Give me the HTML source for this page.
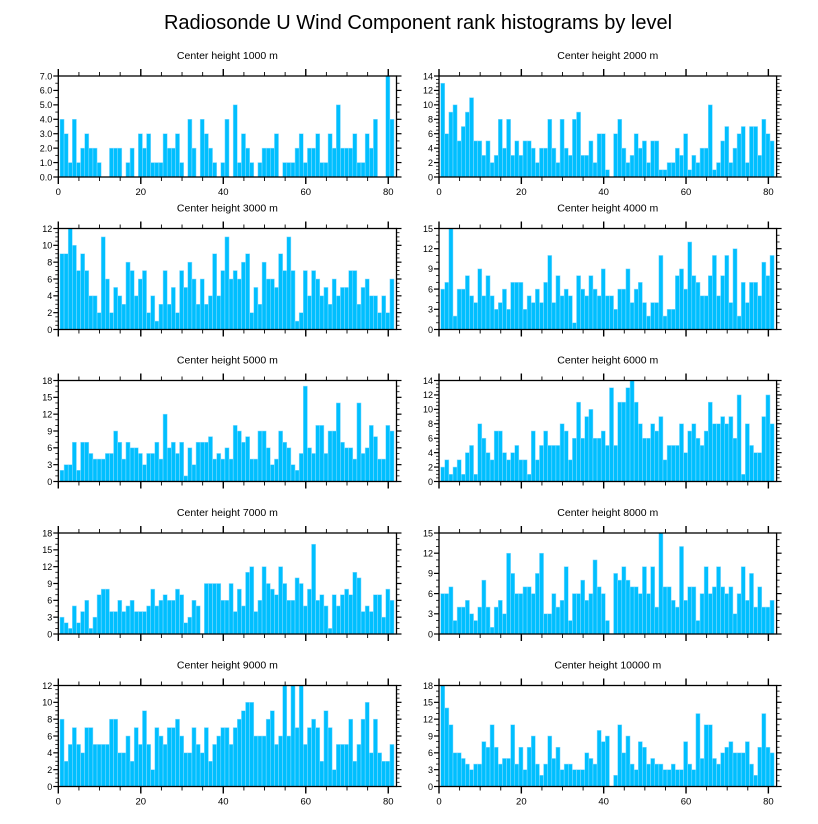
<!DOCTYPE html>
<html><head><meta charset="utf-8"><style>
html,body{margin:0;padding:0;background:#fff}
svg{display:block;font-family:"Liberation Sans",Arial,sans-serif}
</style></head><body>
<svg id="chart" width="818" height="824" viewBox="0 0 818 824" xmlns="http://www.w3.org/2000/svg">
<rect width="818" height="824" fill="#fff"/>
<text x="418" y="29" text-anchor="middle" font-size="20" fill="#000">Radiosonde U Wind Component rank histograms by level</text>
</svg>
<script>
const titles = ["Center height 1000 m","Center height 2000 m","Center height 3000 m","Center height 4000 m","Center height 5000 m","Center height 6000 m","Center height 7000 m","Center height 8000 m","Center height 9000 m","Center height 10000 m"];
const yMax = [7,14,12,15,18,14,18,15,12,18];
const yStep = [1,2,2,3,3,2,3,3,2,3];
const xTicks = [0,20,40,60,80];
const v1000 = [4,3,1,4,1,2,3,2,2,1,0,0,2,2,2,0,1,2,0,3,2,3,1,1,1,3,2,2,3,1,0,4,2,0,4,3,2,1,0,1,4,0,5,1,3,2,1,0,1,2,2,2,3,0,1,1,1,2,3,1,2,2,3,1,1,3,2,5,2,2,2,3,1,1,3,2,4,0,0,7,4];
const v2000 = [13,6,9,10,5,7,9,11,5,5,3,5,2,3,8,4,8,3,5,3,5,5,4,2,4,4,8,4,2,8,4,3,8,9,3,3,5,2,6,6,1,0,6,8,4,2,3,6,4,5,2,5,5,1,1,2,2,4,3,6,1,3,2,4,4,10,1,2,5,7,2,4,6,7,2,7,7,3,8,6,5];
const v3000 = [9,9,12,10,7,9,7,4,4,2,11,6,2,5,4,3,8,7,4,6,7,2,4,1,3,7,3,5,2,7,5,8,6,3,6,3,4,9,4,7,11,6,7,6,8,9,2,5,3,8,6,6,5,9,7,11,7,1,2,7,4,7,6,4,5,3,6,4,5,5,7,7,3,5,6,4,4,2,4,2,6];
const v4000 = [6,7,15,2,6,6,8,5,4,9,5,8,5,3,4,6,3,7,7,7,3,5,4,6,4,7,11,4,8,5,6,5,1,8,6,5,8,6,5,9,5,5,3,6,6,9,4,6,7,4,2,4,4,11,2,3,3,8,9,6,13,8,7,5,5,8,11,5,8,11,4,12,2,7,4,7,7,5,10,8,11];
const v5000 = [2,3,3,7,2,7,7,5,4,4,4,5,5,9,7,4,7,6,6,5,3,5,5,7,4,12,6,7,5,7,1,6,3,7,7,7,8,4,5,4,6,4,10,9,7,8,4,4,9,9,6,3,4,9,7,6,3,2,5,17,6,5,10,10,5,9,9,14,7,6,6,4,14,5,6,10,8,4,4,10,9];
const v6000 = [2,3,1,2,3,1,4,5,1,8,6,4,3,7,7,4,3,4,5,3,3,1,7,3,5,7,5,5,5,8,7,3,6,11,6,9,10,6,6,7,5,13,5,11,11,13,14,11,8,6,6,8,7,9,3,5,5,5,8,4,7,8,6,5,7,11,8,8,9,8,9,6,12,1,8,5,4,4,9,12,8];
const v7000 = [3,2,1,5,2,4,6,1,3,7,8,8,4,4,6,4,5,6,4,4,4,5,8,5,6,7,6,6,8,7,2,3,6,5,0,9,9,9,9,6,6,9,4,8,5,11,12,4,6,12,9,8,7,12,9,6,6,10,9,5,8,16,6,7,5,1,7,5,7,8,7,11,10,4,5,4,7,7,3,8,6];
const v8000 = [6,6,7,2,4,4,5,3,2,4,8,4,1,4,5,3,12,9,6,6,7,7,6,9,12,3,3,6,4,5,10,2,6,6,8,5,6,11,7,6,2,0,9,8,10,8,7,7,6,10,6,10,4,15,7,7,5,4,13,5,7,7,2,6,10,6,7,10,7,6,7,3,6,10,5,9,4,7,4,4,5];
const v9000 = [8,3,5,7,5,4,7,7,5,5,5,5,8,8,4,4,6,3,7,5,9,5,2,7,6,5,7,7,8,6,4,4,7,5,4,7,3,5,6,7,7,5,7,8,9,10,10,6,6,6,8,9,5,6,12,6,12,7,12,5,7,8,7,3,9,7,2,5,5,5,8,3,5,8,10,4,8,4,3,3,5];
const v10000 = [18,14,11,6,6,5,4,3,4,4,8,7,11,7,4,5,5,11,4,7,3,7,9,4,2,4,9,5,7,3,4,4,3,3,3,6,5,4,10,8,9,0,2,11,6,9,4,3,8,7,4,5,4,4,3,3,4,3,3,8,4,3,13,5,11,11,5,4,6,7,8,6,6,6,8,4,2,7,13,7,6];
const series = [v1000,v2000,v3000,v4000,v5000,v6000,v7000,v8000,v9000,v10000];

const NS = "http://www.w3.org/2000/svg";
const svg = document.getElementById("chart");
function mk(tag, attrs, parent){
  const e = document.createElementNS(NS, tag);
  for (const k in attrs) e.setAttribute(k, attrs[k]);
  (parent||svg).appendChild(e); return e;
}
const colX = [58.3, 439];
const colW = [338.2, 337.6];
const rowY = [76, 228.5, 380.5, 533, 685.5];
const plotH = 101;
const X_MAX = 82;

series.forEach((vals, p) => {
  const col = p % 2, row = Math.floor(p / 2);
  const L = colX[col], W = colW[col], T = rowY[row], B = T + plotH;
  const xs = v => L + v / X_MAX * W;
  const ys = v => B - v / yMax[p] * plotH;
  const g = mk("g", {});
  
  

  const t = mk("text", {x: L + W/2, y: T - 17, "text-anchor":"middle", "font-size":"10.5", fill:"#000"}, g);
  t.textContent = titles[p];
  
  

  vals.forEach((v, i) => {
    if (v <= 0) return;
    const x0 = xs(i + 0.4), x1 = xs(i + 1.4);
    const r = mk("rect", {x: x0, y: ys(v), width: x1 - x0, height: B - ys(v), fill:"#00bfff", stroke:"#8fdcff", "stroke-width":"0.5"}, g);
    
    
  });

  const frame = mk("rect", {x: L, y: T, width: W, height: plotH, fill:"none", stroke:"#000", "stroke-width":"1.3"}, g);
  
  

  // x ticks (top & bottom)
  for (let v = 0; v <= 80; v += 5) {
    const major = v % 20 === 0, len = major ? 7 : 4, x = xs(v);
    mk("line", {x1:x, x2:x, y1:B, y2:B+len, stroke:"#000", "stroke-width": major?1.4:0.9}, g);
    mk("line", {x1:x, x2:x, y1:T, y2:T-len, stroke:"#000", "stroke-width": major?1.4:0.9}, g);
  }
  if (row === 0 || row === 4) {
    xTicks.forEach(v => {
      const lt = mk("text", {x: xs(v), y: B + 18, "text-anchor":"middle", "font-size":"9.5", fill:"#000"}, g);
      lt.textContent = v;
      
      
    });
  }
  // y ticks
  const st = yStep[p], minorN = st === 3 ? 3 : (st === 2 ? 4 : 2);
  for (let k = 0; k * st / minorN <= yMax[p] + 1e-9; k++) {
    const v = k * st / minorN, y = ys(v), major = k % minorN === 0, len = major ? 5 : 3;
    mk("line", {x1:L, x2:L-len, y1:y, y2:y, stroke:"#000", "stroke-width": major?1.2:0.8}, g);
    mk("line", {x1:L+W, x2:L+W+len, y1:y, y2:y, stroke:"#000", "stroke-width": major?1.2:0.8}, g);
  }
  for (let v = 0; v <= yMax[p] + 1e-9; v += st) {
    const yt = mk("text", {x: L - 6, y: ys(v) + 3.3, "text-anchor":"end", "font-size":"9", fill:"#000"}, g);
    yt.textContent = p === 0 ? v.toFixed(1) : v;
    
    
  }
});
</script>
</body></html>
